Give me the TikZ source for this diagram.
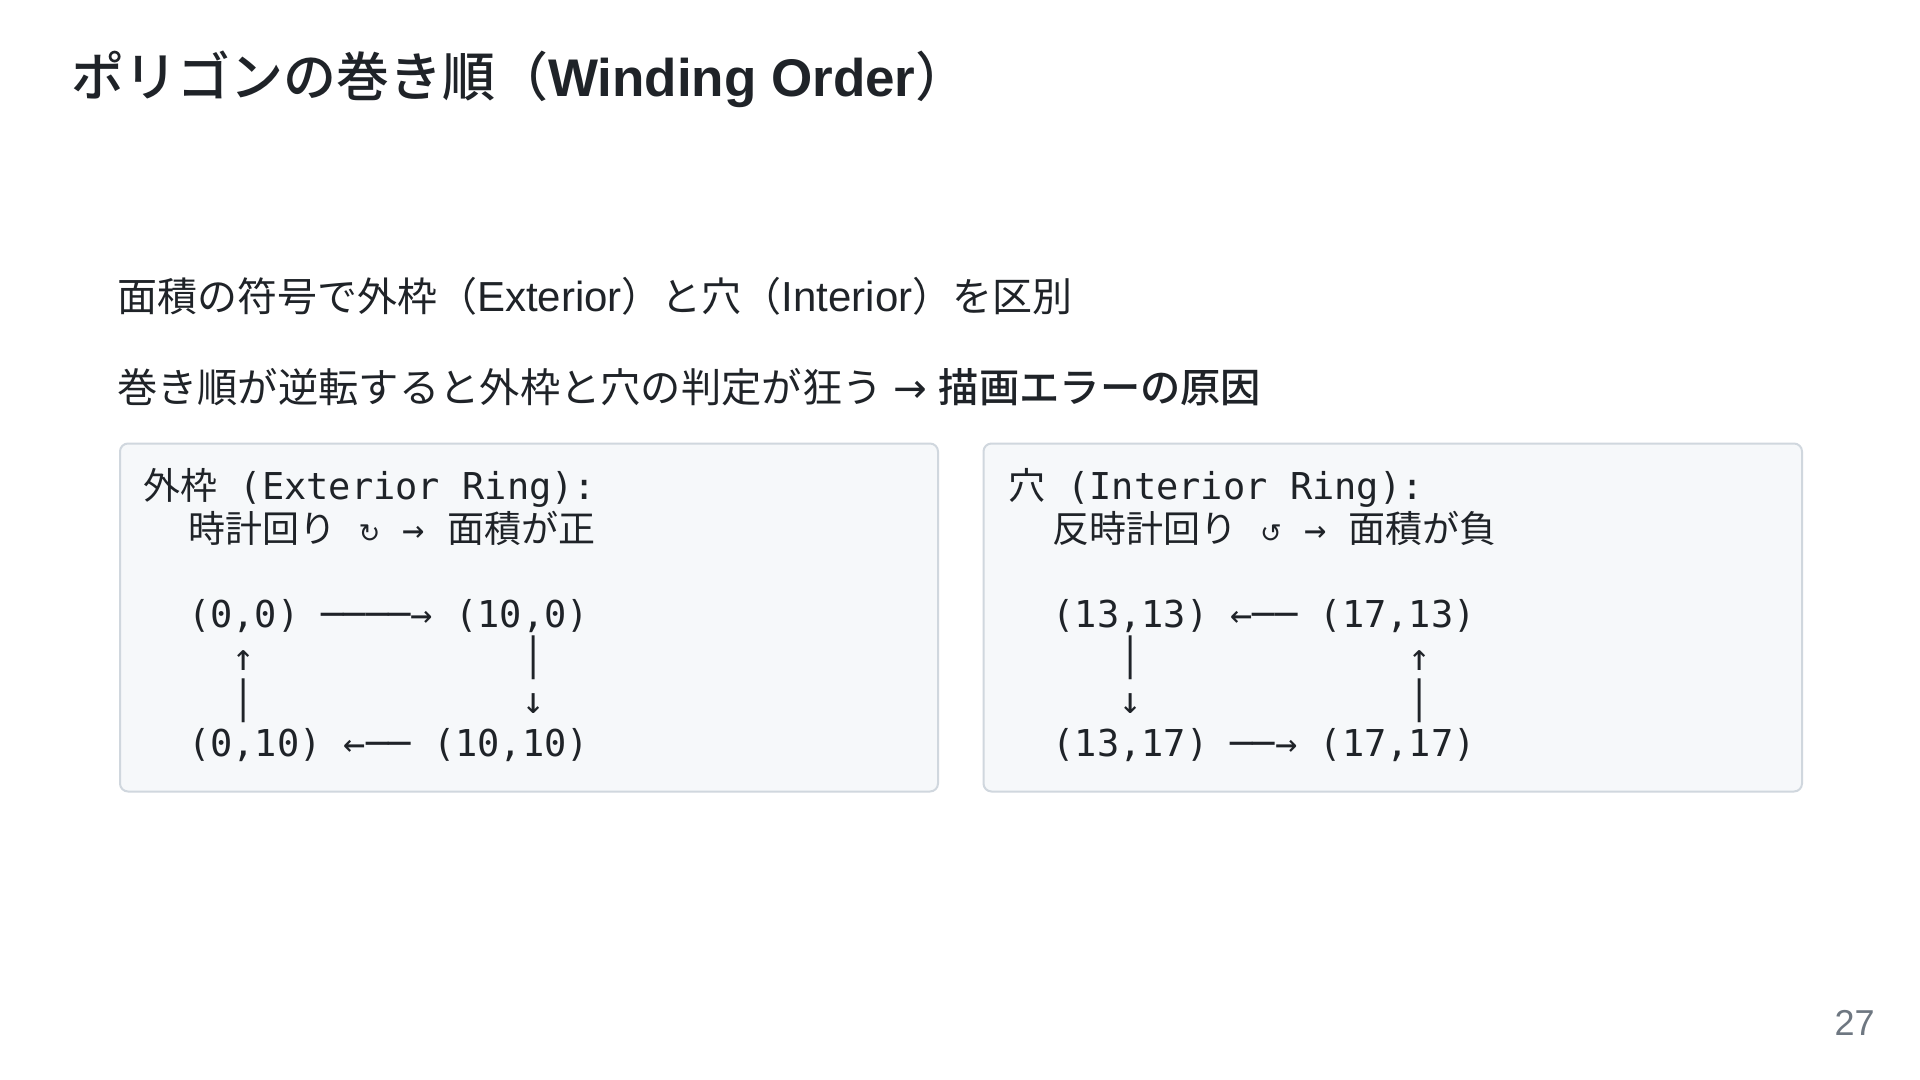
\documentclass[tikz,border=0pt]{standalone}
\usepackage{fontspec}
\setmainfont{Liberation Sans}
\newfontfamily\jp{Noto Sans CJK JP}
\newfontfamily\jpm{Noto Sans CJK JP Medium}
\newfontfamily\monof{DejaVu Sans Mono}
\newfontfamily\symf{DejaVu Sans}
\definecolor{ink}{HTML}{1F2328}
\definecolor{boxfill}{HTML}{F6F8FA}
\definecolor{boxline}{HTML}{D0D7DE}
\definecolor{pagenum}{HTML}{6E7781}
\newlength\cw
\setlength\cw{11.137pt}
\frenchspacing
\tikzset{
  codetxt/.style={anchor=base west, inner sep=0pt, outer sep=0pt, text=ink,
    font=\monof\fontsize{18.5}{22}\selectfont},
  bodytxt/.style={anchor=base west, inner sep=0pt, outer sep=0pt, text=ink,
    font=\fontsize{20}{24}\selectfont},
  titletxt/.style={anchor=base west, inner sep=0pt, outer sep=0pt, text=ink,
    font=\fontsize{26.5}{30}\selectfont},
  codebox/.style={draw=boxline, fill=boxfill, line width=1pt, rounded corners=4pt},
}
\newcommand\rotsym[1]{\makebox[\cw]{\symf\fontsize{13}{13}\selectfont #1}}
\newcommand\latw[1]{{\fontsize{21}{24}\selectfont #1}}
\begin{document}
\begin{tikzpicture}[x=0.5pt,y=-0.5pt]
\fill[white] (0,0) rectangle (1920,1080);
\useasboundingbox (0,0) rectangle (1920,1080);

% title
\node[titletxt] (title) at (71,97) {{\jpm ポリゴンの巻き順（}{\bfseries Winding Order}{\jpm ）}};

% body lines
\node[bodytxt] (line1) at (117,312) {{\jp 面積の符号で外枠（}\latw{Exterior}{\jp ）と穴（}\latw{Interior}{\jp ）を区別}};
\node[bodytxt, font=\fontsize{20.15}{24}\selectfont] (line2) at (117,402) {{\jp 巻き順が逆転すると外枠と穴の判定が狂う} {\symf →} {\jpm 描画エラーの原因}};

% boxes
\path[codebox] (120,443.5) rectangle (938,791.5);
\path[codebox] (983.5,443.5) rectangle (1802,791.5);

% ---- exterior ring (left box), col0 = 143.5, col width 22.27
\node[codetxt] (exth) at (143.5,499.5) {{\jp 外枠} (Exterior Ring):};
\node[codetxt] (exts) at (188.04,542.5) {{\jp 時計回り} \rotsym{↻} → {\jp 面積が正}};
\node[codetxt] (e00)   at (188.04,627.5) {(0,0)};
\node[codetxt] (ea1)   at (321.66,627.5) {────→};
\node[codetxt] (e100)  at (455.28,627.5) {(10,0)};
\node[codetxt] (eup)   at (232.58,670.3) {↑};
\node[codetxt] (ebar1) at (522.09,670.3) {│};
\node[codetxt] (ebar2) at (232.58,713.1) {│};
\node[codetxt] (edn)   at (522.09,713.1) {↓};
\node[codetxt] (e010)  at (188.04,756) {(0,10)};
\node[codetxt] (ea3)   at (343.93,756) {←──};
\node[codetxt] (e1010) at (433.01,756) {(10,10)};

% ---- interior ring (right box), col0 = 1008
\node[codetxt] (inth) at (1008,499.5) {{\jp 穴} (Interior Ring):};
\node[codetxt] (ints) at (1052.54,542.5) {{\jp 反時計回り} \rotsym{↺} → {\jp 面積が負}};
\node[codetxt] (i1313) at (1052.54,627.5) {(13,13)};
\node[codetxt] (ia1)   at (1230.70,627.5) {←──};
\node[codetxt] (i1713) at (1319.78,627.5) {(17,13)};
\node[codetxt] (ibar1) at (1119.35,670.3) {│};
\node[codetxt] (iup)   at (1408.86,670.3) {↑};
\node[codetxt] (idn)   at (1119.35,713.1) {↓};
\node[codetxt] (ibar2) at (1408.86,713.1) {│};
\node[codetxt] (i1317) at (1052.54,756) {(13,17)};
\node[codetxt] (ia3)   at (1230.70,756) {──→};
\node[codetxt] (i1717) at (1319.78,756) {(17,17)};

% page number
\node[anchor=base east, inner sep=0pt, text=pagenum, font=\fontsize{18}{20}\selectfont] (page) at (1875,1035) {27};
\end{tikzpicture}
\end{document}
